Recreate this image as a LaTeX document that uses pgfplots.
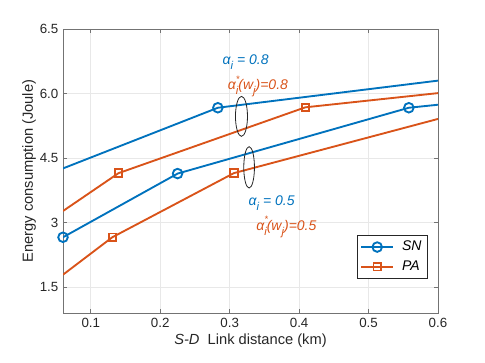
\documentclass[border=0pt]{standalone}
\usepackage{fontspec}
\setmainfont{Liberation Sans}
\usepackage{pgfplots}
\pgfplotsset{compat=1.18}

\definecolor{mblue}{rgb}{0,0.447,0.741}
\definecolor{morange}{rgb}{0.85,0.325,0.098}
\definecolor{axgray}{rgb}{0.15,0.15,0.15}

\newcommand{\sub}[1]{\raisebox{-0.65ex}{\fontsize{8.5}{9}\selectfont\itshape #1}}
\newcommand{\astar}{α\rlap{\raisebox{1.0ex}{\fontsize{7}{8}\selectfont *}}\sub{i}}

\begin{document}
\begin{tikzpicture}
\begin{axis}[
  scale only axis,
  width=281.25pt, height=213pt,
  xmin=0.06, xmax=0.6,
  ymin=0.9, ymax=7.5,
  xtick={0.1,0.2,0.3,0.4,0.5,0.6},
  xticklabels={0.1,0.2,0.3,0.4,0.5,0.6},
  ytick={1.5,3,4.5,6,7.5},
  yticklabels={1.5,3,4.5,6.0,6.5},
  tick align=inside,
  major tick length=3pt,
  grid=major,
  major grid style={gray!18, line width=0.5pt},
  axis line style={black!55, line width=0.6pt},
  tick style={black!55, line width=0.6pt},
  ticklabel style={font=\fontsize{10}{12}\selectfont, text=axgray},
  xlabel={\textit{S-D}\ \ Link distance (km)},
  ylabel={Energy consumption (Joule)},
  label style={font=\fontsize{11}{13}\selectfont, text=axgray},
  xlabel style={yshift=2pt},
  ylabel style={yshift=-4pt},
  legend cell align=left,
  legend style={at={(0.973,0.12)}, anchor=south east,
    draw=axgray, line width=0.5pt, fill=white,
    font=\fontsize{10.5}{12}\selectfont\itshape,
    inner sep=2.5pt, row sep=2pt, column sep=4pt},
  legend image code/.code={
    \draw[#1, mark indices={2}]
      plot coordinates {(0cm,0cm) (0.42cm,0cm) (0.84cm,0cm)};
  },
]
\addplot[mblue, line width=1.4pt, mark=o, mark size=3.6pt,
  mark options={line width=1.4pt}, mark indices={2}]
  coordinates {(0.06,4.26) (0.283,5.67) (0.6,6.30)};
\addlegendentry{SN}
\addplot[morange, line width=1.4pt, mark=square, mark size=2.8pt,
  mark options={line width=1.4pt}, mark indices={2,3}]
  coordinates {(0.06,3.27) (0.14,4.15) (0.409,5.68) (0.6,6.01)};
\addlegendentry{PA}
\addplot[mblue, line width=1.4pt, mark=o, mark size=3.6pt,
  mark options={line width=1.4pt}, mark indices={1,2,3}, forget plot]
  coordinates {(0.06,2.66) (0.225,4.14) (0.558,5.67) (0.6,5.74)};
\addplot[morange, line width=1.4pt, mark=square, mark size=2.8pt,
  mark options={line width=1.4pt}, mark indices={2,3}, forget plot]
  coordinates {(0.06,1.79) (0.131,2.66) (0.306,4.15) (0.6,5.41)};

\draw[axgray, line width=0.6pt] (axis cs:0.317,5.47) ellipse [x radius=4.5pt, y radius=15pt];
\draw[axgray, line width=0.6pt] (axis cs:0.328,4.285) ellipse [x radius=4pt, y radius=15.5pt];

\node[anchor=base west, text=mblue, font=\fontsize{10.5}{12}\selectfont\itshape, inner sep=0pt]
  at (axis cs:0.2895,6.68) {α\sub{i} = 0.8};
\node[anchor=base west, text=morange, font=\fontsize{10.5}{12}\selectfont\itshape, inner sep=0pt]
  at (axis cs:0.297,6.09) {\astar(w\sub{j})=0.8};
\node[anchor=base west, text=mblue, font=\fontsize{10.5}{12}\selectfont\itshape, inner sep=0pt]
  at (axis cs:0.327,3.39) {α\sub{i} = 0.5};
\node[anchor=base west, text=morange, font=\fontsize{10.5}{12}\selectfont\itshape, inner sep=0pt]
  at (axis cs:0.338,2.82) {\astar(w\sub{j})=0.5};
\end{axis}
\path[use as bounding box] ([shift={(-47.25pt,-37.5pt)}]current axis.south west) rectangle ++(363.75pt,272.25pt);
\end{tikzpicture}
\end{document}
